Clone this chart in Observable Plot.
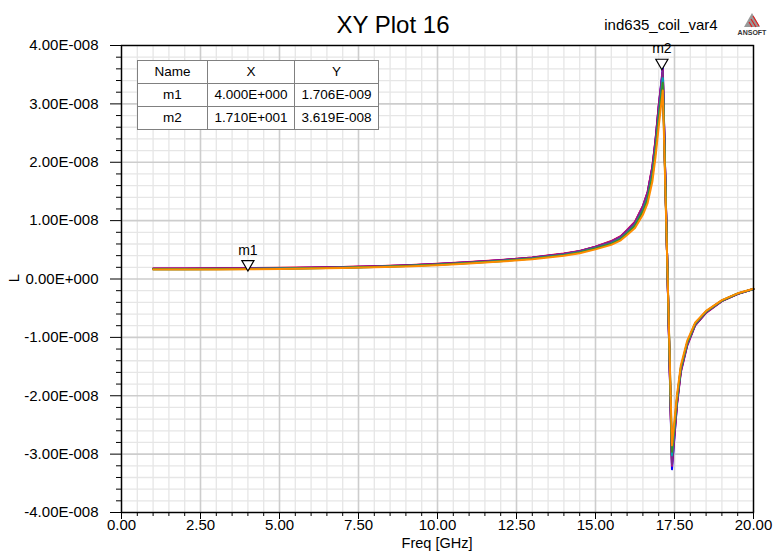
<!DOCTYPE html>
<html>
<head>
<meta charset="utf-8">
<script src="https://cdn.jsdelivr.net/npm/d3@7"></script>
<script src="https://cdn.jsdelivr.net/npm/@observablehq/plot@0.6"></script>
<style>
  html, body { margin: 0; padding: 0; background: #fff; }
  #wrap { position: relative; width: 773px; height: 552px; font-family: Arial, "Liberation Sans", sans-serif; }
  #tbl { position: absolute; left: 137px; top: 60px; border-collapse: collapse; border: 1.5px solid #000; background: #fff;
         font-family: Arial, "Liberation Sans", sans-serif; font-size: 13.5px; color: #000; }
  #tbl td { border: 1px solid #808080; text-align: center; padding: 0; height: 22px; line-height: 22px; }
</style>
</head>
<body>
<div id="wrap"></div>
<script>
// ---- data (L in nH, frequency in GHz) ----
const freq = [1, 2, 3, 4, 5, 6, 7, 8, 9, 10, 11, 12, 13, 14, 14.5, 15, 15.5, 15.8, 16, 16.25, 16.5, 16.65, 16.8, 16.9, 17, 17.13, 17.42, 17.58, 17.7, 17.9, 18.15, 18.5, 19, 19.5, 20];

const seriesNames = ["s1", "s2", "s3", "s4", "s5", "s6", "s7", "s8"];
const seriesColors = ["#ff0000", "#0000ff", "#d4008c", "#8b0000", "#7b2d8e", "#00a5b0", "#3c8c28", "#ff8c00"];

const s1 = [1.80,1.81,1.83,1.86,1.91,1.98,2.07,2.20,2.36,2.60,2.90,3.25,3.70,4.35,4.80,5.55,6.50,7.35,8.40,9.80,12.5,14.9,19.3,23.9,29.6,35.4,-31.5,-20.5,-15.4,-11.0,-7.70,-5.60,-3.70,-2.50,-1.70];
const s2 = [1.74,1.75,1.77,1.81,1.86,1.93,2.02,2.15,2.32,2.55,2.85,3.20,3.65,4.30,4.75,5.50,6.40,7.25,8.30,9.70,12.4,14.8,19.1,23.7,29.5,36.2,-32.6,-21.3,-15.8,-11.3,-7.90,-5.70,-3.75,-2.55,-1.72];
const s3 = [1.77,1.78,1.80,1.83,1.88,1.95,2.04,2.17,2.33,2.56,2.87,3.22,3.67,4.32,4.77,5.52,6.45,7.30,8.35,9.75,12.45,14.9,19.2,23.8,29.7,35.8,-32.0,-21.6,-16.0,-11.5,-8.00,-5.80,-3.80,-2.58,-1.74];
const s4 = [1.71,1.72,1.74,1.77,1.82,1.89,1.98,2.11,2.27,2.50,2.79,3.14,3.58,4.21,4.66,5.40,6.28,7.12,8.12,9.48,12.1,14.4,18.6,23.1,28.8,34.8,-31.0,-21.0,-15.6,-11.2,-7.90,-5.70,-3.75,-2.55,-1.72];
const s5 = [1.75,1.76,1.78,1.81,1.86,1.93,2.02,2.15,2.31,2.54,2.84,3.19,3.64,4.29,4.74,5.48,6.38,7.22,8.22,9.62,12.3,14.6,18.9,23.4,29.2,35.6,-31.8,-21.2,-15.8,-11.3,-7.90,-5.70,-3.75,-2.55,-1.72];
const s6 = [1.67,1.68,1.70,1.73,1.78,1.85,1.94,2.07,2.23,2.45,2.74,3.08,3.52,4.13,4.57,5.28,6.10,6.92,7.90,9.20,11.7,13.9,17.9,22.3,27.8,34.4,-30.2,-20.6,-15.3,-11.0,-7.70,-5.60,-3.70,-2.50,-1.70];
const s7 = [1.65,1.66,1.68,1.71,1.76,1.83,1.92,2.05,2.21,2.43,2.72,3.06,3.49,4.09,4.53,5.23,6.03,6.84,7.78,9.08,11.55,13.65,17.55,21.9,27.3,33.6,-29.6,-20.4,-15.2,-10.9,-7.65,-5.55,-3.68,-2.48,-1.69];
const s8 = [1.61,1.62,1.64,1.67,1.72,1.79,1.88,2.00,2.16,2.37,2.65,2.98,3.40,3.98,4.41,5.08,5.84,6.62,7.52,8.72,11.0,13.0,16.7,20.9,26.1,32.3,-28.5,-19.8,-14.8,-10.6,-7.50,-5.45,-3.62,-2.45,-1.67];
const seriesValues = [s1, s2, s3, s4, s5, s6, s7, s8];

const markerNames = ["m1", "m2"];
const markerX = [4.0, 17.1];          // GHz
const markerY = [1.706e-9, 3.619e-8]; // H

const xMajor = [0, 2.5, 5, 7.5, 10, 12.5, 15, 17.5, 20];
const xTickLabels = ["0.00", "2.50", "5.00", "7.50", "10.00", "12.50", "15.00", "17.50", "20.00"];
const yMajor = [-4e-8, -3e-8, -2e-8, -1e-8, 0, 1e-8, 2e-8, 3e-8, 4e-8];
const yTickLabels = ["-4.00E-008", "-3.00E-008", "-2.00E-008", "-1.00E-008", "0.00E+000", "1.00E-008", "2.00E-008", "3.00E-008", "4.00E-008"];

const titleText = "XY Plot 16";
const designText = "ind635_coil_var4";
const xLabel = "Freq [GHz]";
const yLabel = "L";

// ---- build ----
const rows = seriesNames.flatMap((name, si) =>
  freq.map((f, i) => ({ series: name, f, L: seriesValues[si][i] * 1e-9 }))
);
const markers = markerNames.map((name, i) => ({ name, x: markerX[i], y: markerY[i] }));

const xMinor = d3.range(0, 41).filter(k => k % 5 !== 0).map(k => k * 0.5);
const yMinor = d3.range(0, 41).filter(k => k % 5 !== 0).map(k => (-40 + k * 2) * 1e-9);

const font = "Arial, 'Liberation Sans', sans-serif";

const chart = Plot.plot({
  width: 773,
  height: 552,
  marginLeft: 121,
  marginRight: 20,
  marginTop: 45,
  marginBottom: 40,
  style: { fontFamily: font, fontSize: "15px", background: "white", color: "black", overflow: "visible" },
  x: { domain: [0, 20], label: null },
  y: { domain: [-4e-8, 4e-8], label: null },
  color: { domain: seriesNames, range: seriesColors },
  marks: [
    Plot.gridX(xMinor, { stroke: "#e6e6e6", strokeOpacity: 1, strokeWidth: 1.3 }),
    Plot.gridY(yMinor, { stroke: "#e6e6e6", strokeOpacity: 1, strokeWidth: 1.3 }),
    Plot.gridX(xMajor, { stroke: "#cdcdcd", strokeOpacity: 1, strokeWidth: 1.6 }),
    Plot.gridY(yMajor, { stroke: "#cdcdcd", strokeOpacity: 1, strokeWidth: 1.6 }),
    Plot.line(rows, { x: "f", y: "L", z: "series", stroke: "series", strokeWidth: 2 }),
    Plot.frame({ stroke: "black", strokeWidth: 1.4 }),
    Plot.axisY(yMajor, { tickSize: 11, tickPadding: 12, fontSize: 15, tickFormat: d => yTickLabels[yMajor.indexOf(d)] }),
    Plot.axisY(yMinor, { tickSize: 5, tickFormat: () => "" }),
    Plot.axisX(xMajor, { tickSize: 7, tickPadding: 0, fontSize: 15, tickFormat: d => xTickLabels[xMajor.indexOf(d)] }),
    Plot.axisX(xMinor, { tickSize: 4, tickFormat: () => "" }),
    Plot.dot(markers, { x: "x", y: "y", symbol: "triangle", r: 4.5, rotate: 180, stroke: "black", fill: "white", strokeWidth: 1.2, dy: -5 }),
    Plot.text(markers, { x: "x", y: "y", text: "name", dy: -19, fontSize: 14, fill: "black" })
  ]
});

const svg = d3.select(chart);
svg.append("text").attr("x", 393).attr("y", 33).attr("text-anchor", "middle")
  .attr("font-family", font).attr("font-size", 24).attr("fill", "#000").text(titleText);
svg.append("text").attr("x", 661).attr("y", 30).attr("text-anchor", "middle")
  .attr("font-family", font).attr("font-size", 15).attr("fill", "#000").text(designText);
svg.append("text").attr("x", 437).attr("y", 548).attr("text-anchor", "middle")
  .attr("font-family", font).attr("font-size", 14.5).attr("fill", "#000").text(xLabel);
svg.append("text").attr("transform", "translate(19,278) rotate(-90)").attr("text-anchor", "middle")
  .attr("font-family", font).attr("font-size", 15).attr("fill", "#000").text(yLabel);

// ANSOFT logo
const logo = svg.append("g").attr("transform", "translate(752,13)");
logo.append("path").attr("d", "M0,0 L8,14 L-8,14 Z").attr("fill", "#999");
logo.append("path").attr("d", "M-1,6 L4,14 M1,3 L7,13 M-3,9 L0,14").attr("stroke", "#e02020").attr("stroke-width", 1.2);
logo.append("text").attr("x", 0).attr("y", 21.5).attr("text-anchor", "middle")
  .attr("font-family", font).attr("font-size", 7).attr("font-weight", "bold").attr("fill", "#333").text("ANSOFT");

const wrap = document.getElementById("wrap");
wrap.appendChild(chart);

// marker table
function fmtE(v) {
  if (v === 0) return "0.000E+000";
  let e = Math.floor(Math.log10(Math.abs(v)));
  let m = v / Math.pow(10, e);
  let ms = m.toFixed(3);
  if (Math.abs(parseFloat(ms)) >= 10) { e += 1; ms = (v / Math.pow(10, e)).toFixed(3); }
  return ms + "E" + (e < 0 ? "-" : "+") + String(Math.abs(e)).padStart(3, "0");
}
const tbl = document.createElement("table");
tbl.id = "tbl";
const colW = [69, 86, 83];
const header = ["Name", "X", "Y"];
const trs = [header].concat(markers.map(m => [m.name, fmtE(m.x), fmtE(m.y)]));
trs.forEach(r => {
  const tr = document.createElement("tr");
  r.forEach((c, j) => {
    const td = document.createElement("td");
    td.style.width = colW[j] + "px";
    td.textContent = c;
    tr.appendChild(td);
  });
  tbl.appendChild(tr);
});
wrap.appendChild(tbl);
</script>
</body>
</html>
